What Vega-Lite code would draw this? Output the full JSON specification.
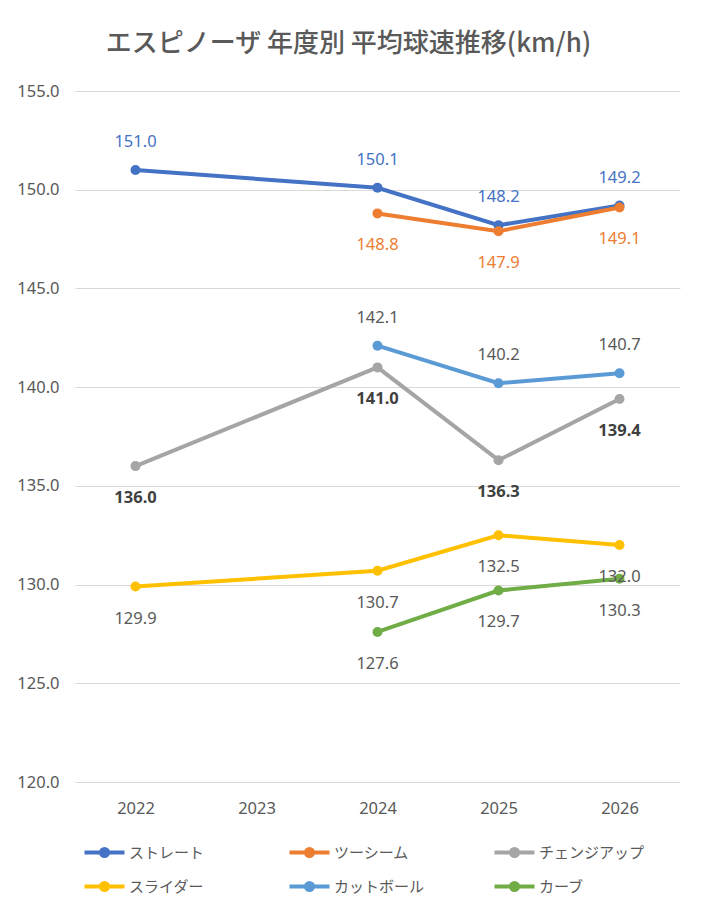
{
  "$schema": "https://vega.github.io/schema/vega-lite/v6.json",
  "width": 605,
  "height": 691,
  "padding": {"left": 16, "top": 31, "right": 24, "bottom": 10},
  "background": "white",
  "title": {
    "text": "エスピノーザ 年度別 平均球速推移(km/h)",
    "font": "Noto Sans CJK JP",
    "fontSize": 26,
    "fontWeight": 500,
    "color": "#595959",
    "anchor": "middle",
    "frame": "bounds",
    "offset": 26
  },
  "data": {
    "values": [
      {"type": "ストレート", "year": "2022", "value": 151.0},
      {"type": "ストレート", "year": "2024", "value": 150.1},
      {"type": "ストレート", "year": "2025", "value": 148.2},
      {"type": "ストレート", "year": "2026", "value": 149.2},
      {"type": "ツーシーム", "year": "2024", "value": 148.8},
      {"type": "ツーシーム", "year": "2025", "value": 147.9},
      {"type": "ツーシーム", "year": "2026", "value": 149.1},
      {"type": "チェンジアップ", "year": "2022", "value": 136.0},
      {"type": "チェンジアップ", "year": "2024", "value": 141.0},
      {"type": "チェンジアップ", "year": "2025", "value": 136.3},
      {"type": "チェンジアップ", "year": "2026", "value": 139.4},
      {"type": "スライダー", "year": "2022", "value": 129.9},
      {"type": "スライダー", "year": "2024", "value": 130.7},
      {"type": "スライダー", "year": "2025", "value": 132.5},
      {"type": "スライダー", "year": "2026", "value": 132.0},
      {"type": "カットボール", "year": "2024", "value": 142.1},
      {"type": "カットボール", "year": "2025", "value": 140.2},
      {"type": "カットボール", "year": "2026", "value": 140.7},
      {"type": "カーブ", "year": "2024", "value": 127.6},
      {"type": "カーブ", "year": "2025", "value": 129.7},
      {"type": "カーブ", "year": "2026", "value": 130.3}
    ]
  },
  "encoding": {
    "x": {
      "field": "year",
      "type": "ordinal",
      "scale": {"type": "point", "domain": ["2022", "2023", "2024", "2025", "2026"], "padding": 0.5},
      "axis": {
        "title": null,
        "labelAngle": 0,
        "ticks": false,
        "domain": false,
        "labelPadding": 18,
        "labelFont": "Noto Sans",
        "labelFontSize": 16.5,
        "labelColor": "#595959"
      }
    },
    "y": {
      "field": "value",
      "type": "quantitative",
      "scale": {"domain": [120, 155], "nice": false, "zero": false},
      "axis": {
        "title": null,
        "values": [120, 125, 130, 135, 140, 145, 150, 155],
        "format": ".1f",
        "ticks": false,
        "domain": false,
        "labelPadding": 16,
        "labelFont": "Noto Sans",
        "labelFontSize": 16.5,
        "labelColor": "#595959",
        "gridColor": "#D9D9D9",
        "gridWidth": 1
      }
    }
  },
  "layer": [
    {
      "mark": {"type": "line", "strokeWidth": 4, "point": {"filled": true, "size": 100}},
      "encoding": {
        "color": {
          "field": "type",
          "type": "nominal",
          "sort": null,
          "scale": {
            "domain": ["ストレート", "ツーシーム", "チェンジアップ", "スライダー", "カットボール", "カーブ"],
            "range": ["#4472C4", "#ED7D31", "#A5A5A5", "#FFC000", "#5B9BD5", "#70AD47"]
          },
          "legend": {
            "title": null,
            "orient": "none",
            "legendX": 22,
            "legendY": 754,
            "direction": "horizontal",
            "columns": 3,
            "symbolType": "M-4,0H4M-0.3,0A0.3,0.3 0 1,0 0.3,0A0.3,0.3 0 1,0 -0.3,0M-0.7,0A0.7,0.7 0 1,0 0.7,0A0.7,0.7 0 1,0 -0.7,0",
            "symbolSize": 100,
            "symbolStrokeWidth": 4,
            "labelOffset": 17,
            "labelFont": "Noto Sans CJK JP",
            "labelFontSize": 15,
            "labelColor": "#595959",
            "gridAlign": "all",
            "columnPadding": 46,
            "rowPadding": 11
          }
        }
      }
    },
    {
      "transform": [{"filter": "datum.type === 'ストレート'"}],
      "mark": {"type": "text", "dy": -28, "font": "Noto Sans", "fontSize": 16.5, "color": "#4472C4"},
      "encoding": {"text": {"field": "value", "type": "quantitative", "format": ".1f"}}
    },
    {
      "transform": [{"filter": "datum.type === 'ツーシーム'"}],
      "mark": {"type": "text", "dy": 32, "font": "Noto Sans", "fontSize": 16.5, "color": "#ED7D31"},
      "encoding": {"text": {"field": "value", "type": "quantitative", "format": ".1f"}}
    },
    {
      "transform": [{"filter": "datum.type === 'チェンジアップ'"}],
      "mark": {"type": "text", "dy": 32, "font": "Noto Sans", "fontSize": 16.5, "fontWeight": "bold", "color": "#404040"},
      "encoding": {"text": {"field": "value", "type": "quantitative", "format": ".1f"}}
    },
    {
      "transform": [{"filter": "datum.type === 'カットボール'"}],
      "mark": {"type": "text", "dy": -28, "font": "Noto Sans", "fontSize": 16.5, "color": "#595959"},
      "encoding": {"text": {"field": "value", "type": "quantitative", "format": ".1f"}}
    },
    {
      "transform": [{"filter": "datum.type === 'スライダー' || datum.type === 'カーブ'"}],
      "mark": {"type": "text", "dy": 32, "font": "Noto Sans", "fontSize": 16.5, "color": "#595959"},
      "encoding": {"text": {"field": "value", "type": "quantitative", "format": ".1f"}}
    }
  ],
  "config": {
    "view": {"stroke": null}
  }
}
